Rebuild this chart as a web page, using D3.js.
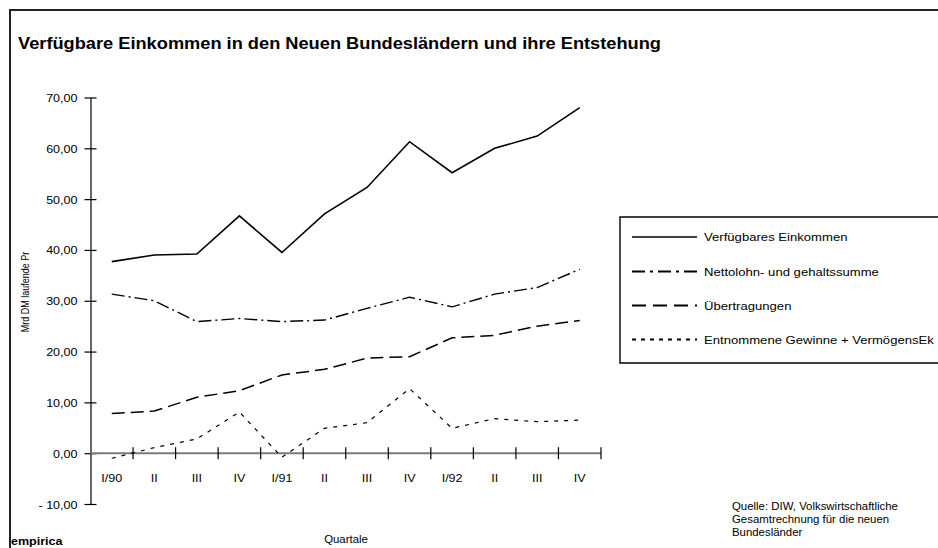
<!DOCTYPE html>
<html>
<head>
<meta charset="utf-8">
<script src="https://cdn.jsdelivr.net/npm/d3@7"></script>
<style>
  html, body { margin: 0; padding: 0; background: #fff; }
  svg { display: block; font-family: "Liberation Sans", Arial, sans-serif; }
  text { fill: #000; }
</style>
</head>
<body>
<svg id="chart" width="938" height="548"></svg>
<script>
// Quarterly categories
const quarters = ["I/90", "II", "III", "IV", "I/91", "II", "III", "IV", "I/92", "II", "III", "IV"];

// Series values, Mrd DM
const verfuegbaresEinkommen = [37.7, 39.0, 39.2, 46.7, 39.5, 47.1, 52.3, 61.3, 55.2, 60.0, 62.4, 68.0];
const nettolohnsumme        = [31.3, 30.0, 25.9, 26.5, 25.9, 26.2, 28.5, 30.7, 28.8, 31.3, 32.6, 36.2];
const uebertragungen        = [7.8, 8.3, 11.0, 12.3, 15.4, 16.5, 18.7, 19.0, 22.7, 23.2, 25.0, 26.1];
const entnommeneGewinne     = [-1.0, 1.1, 2.8, 8.1, -0.8, 4.9, 6.0, 12.7, 4.9, 6.8, 6.2, 6.5];

const seriesNames = [
  "Verfügbares Einkommen",
  "Nettolohn-  und gehaltssumme",
  "Übertragungen",
  "Entnommene Gewinne + VermögensEk"
];

const yTicks = [-10, 0, 10, 20, 30, 40, 50, 60, 70];

const seriesValues = [verfuegbaresEinkommen, nettolohnsumme, uebertragungen, entnommeneGewinne];
const dashPlot   = [null, "13,4,2,4", "13,6", "4,6"];
const dashLegend = [null, "13,5,3,5", "14,7", "4,5"];
const widthPlot  = [1.6, 1.4, 1.5, 1.2];

// Text is drawn slightly wide (horizontal stretch)
const SX = 1.14;

const svg = d3.select("#chart");

function label(parent, x, y, str, opts = {}) {
  const t = parent.append("text")
    .attr("transform", `translate(${x},${y}) scale(${SX},1)`)
    .attr("font-size", opts.size || 11)
    .attr("text-anchor", opts.anchor || "start")
    .attr("fill", "#000")
    .text(str);
  if (opts.bold) t.attr("font-weight", "bold");
  return t;
}

// Outer frame (top and left edges only)
svg.append("path")
  .attr("d", "M10,548 V10 H938")
  .attr("fill", "none")
  .attr("stroke", "#222")
  .attr("stroke-width", 2);

// Title
label(svg, 18, 49, "Verfügbare Einkommen in den Neuen Bundesländern und ihre Entstehung", { size: 16, bold: true });

// Scales
const x = d3.scaleBand().domain(d3.range(quarters.length)).range([90.5, 601]).padding(0);
const y = d3.scaleLinear().domain([-10, 70]).range([504, 97.5]);

// Y axis
const fmt = d => (d < 0 ? "- " : "") + d3.format(".2f")(Math.abs(d)).replace(".", ",");
const yAxis = d3.axisLeft(y).tickValues(yTicks).tickSize(0).tickFormat("");
const gy = svg.append("g").attr("transform", "translate(90.5,0)").call(yAxis);
gy.select(".domain").attr("stroke", "#000").attr("stroke-width", 1.2);
gy.selectAll(".tick text").remove();
gy.selectAll(".tick").append("line")
  .attr("x1", -6).attr("x2", 6).attr("stroke", "#000").attr("stroke-width", 1.2);
gy.selectAll(".tick").each(function(d) {
  label(d3.select(this), -13, 4, fmt(d), { size: 11, anchor: "end" });
});

// X axis along zero line, ticks at category boundaries
const gx = svg.append("g").attr("transform", `translate(0,${y(0)})`);
gx.append("line")
  .attr("x1", 90.5).attr("x2", 601)
  .attr("stroke", "#7a7a7a").attr("stroke-width", 2);
const boundaries = d3.range(1, quarters.length + 1).map(i => x.range()[0] + i * x.bandwidth());
gx.selectAll("line.tick").data(boundaries).join("line")
  .attr("class", "tick")
  .attr("x1", d => d).attr("x2", d => d)
  .attr("y1", -6).attr("y2", 6)
  .attr("stroke", "#000").attr("stroke-width", 1.2);
const gxl = svg.append("g");
quarters.forEach((q, i) => {
  label(gxl, x(i) + x.bandwidth() / 2, 482, q, { size: 11, anchor: "middle" });
});

// Axis titles
svg.append("text")
  .attr("transform", "translate(29,292) rotate(-90) scale(1,1.14)")
  .attr("text-anchor", "middle")
  .attr("font-size", 9)
  .attr("fill", "#000")
  .text("Mrd DM laufende Pr");
label(svg, 346, 543, "Quartale", { size: 10, anchor: "middle" });

// Series lines
const line = d3.line()
  .x((d, i) => x(i) + x.bandwidth() / 2)
  .y(d => y(d));
seriesValues.forEach((vals, k) => {
  svg.append("path")
    .datum(vals)
    .attr("d", line)
    .attr("fill", "none")
    .attr("stroke", "#000")
    .attr("stroke-width", widthPlot[k])
    .attr("stroke-dasharray", dashPlot[k]);
});

// Legend
const lg = svg.append("g");
lg.append("path")
  .attr("d", "M938,217 H620 V363 H938")
  .attr("fill", "none")
  .attr("stroke", "#000")
  .attr("stroke-width", 1.4);
const rowY = [237, 271.5, 305.5, 339.5];
seriesNames.forEach((name, k) => {
  lg.append("line")
    .attr("x1", 632).attr("x2", 697)
    .attr("y1", rowY[k]).attr("y2", rowY[k])
    .attr("stroke", "#000")
    .attr("stroke-width", k === 0 ? 1.4 : 2)
    .attr("stroke-dasharray", dashLegend[k]);
  label(lg, 704, rowY[k] + 4, name, { size: 11.5 });
});

// Footer
label(svg, 11, 545, "empirica", { size: 11, bold: true });
const source = ["Quelle: DIW, Volkswirtschaftliche", "Gesamtrechnung für die neuen", "Bundesländer"];
const gs = svg.append("g");
source.forEach((s, i) => label(gs, 732, 510 + i * 13, s, { size: 10 }));
</script>
</body>
</html>
